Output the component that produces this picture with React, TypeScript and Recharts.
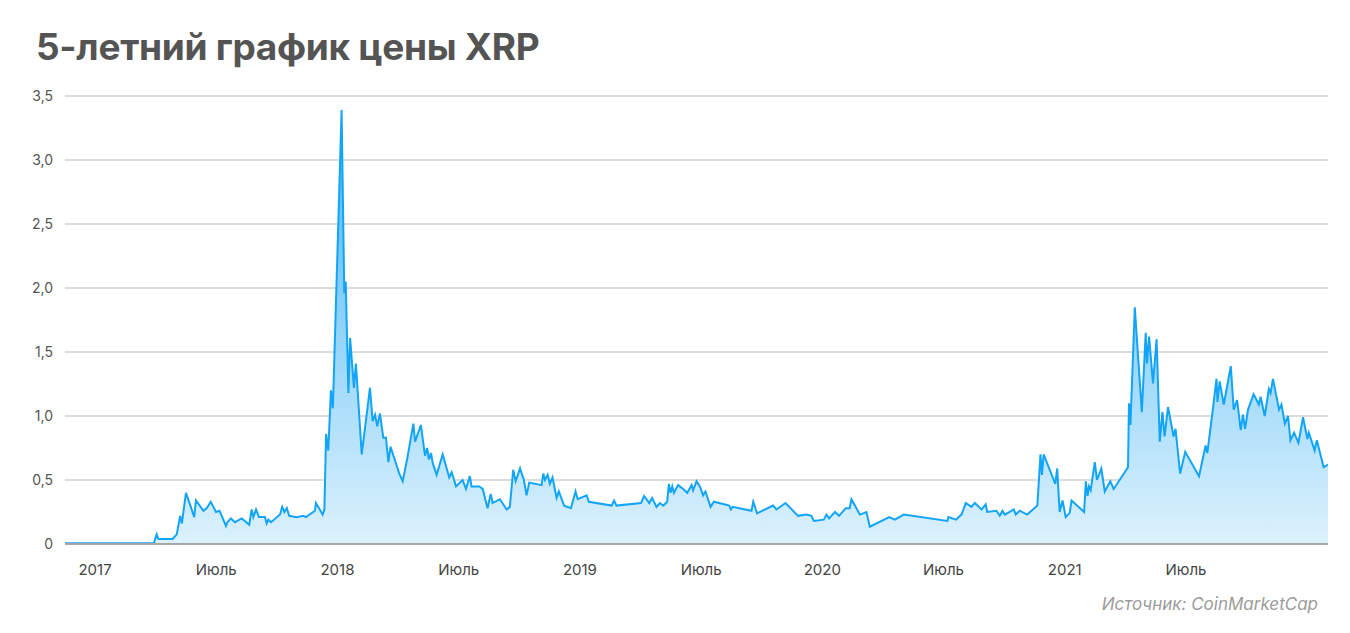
import { AreaChart, Area, XAxis, YAxis, CartesianGrid } from 'recharts'

// время в долях года, цена XRP в долларах
const years = [
  2016.876, 2017.243, 2017.254, 2017.261, 2017.32, 2017.337, 2017.351, 2017.358, 2017.375, 2017.395,
  2017.409, 2017.416, 2017.447, 2017.461, 2017.477, 2017.499, 2017.513, 2017.527, 2017.54, 2017.546,
  2017.56, 2017.577, 2017.605, 2017.636, 2017.646, 2017.653, 2017.664, 2017.676, 2017.701, 2017.708,
  2017.715, 2017.726, 2017.763, 2017.772, 2017.781, 2017.791, 2017.801, 2017.832, 2017.859, 2017.87,
  2017.907, 2017.911, 2017.939, 2017.946, 2017.953, 2017.962, 2017.973, 2017.981, 2018.017, 2018.028,
  2018.034, 2018.045, 2018.052, 2018.068, 2018.076, 2018.1, 2018.134, 2018.145, 2018.155, 2018.164,
  2018.175, 2018.189, 2018.2, 2018.21, 2018.219, 2018.255, 2018.269, 2018.288, 2018.313, 2018.32,
  2018.344, 2018.361, 2018.37, 2018.377, 2018.386, 2018.393, 2018.409, 2018.434, 2018.461, 2018.471,
  2018.489, 2018.516, 2018.53, 2018.546, 2018.553, 2018.585, 2018.599, 2018.619, 2018.632, 2018.64,
  2018.67, 2018.698, 2018.711, 2018.725, 2018.735, 2018.753, 2018.769, 2018.78, 2018.791, 2018.842,
  2018.849, 2018.856, 2018.867, 2018.876, 2018.887, 2018.904, 2018.913, 2018.935, 2018.963, 2018.982,
  2018.991, 2019.028, 2019.037, 2019.131, 2019.141, 2019.151, 2019.252, 2019.265, 2019.286, 2019.298,
  2019.316, 2019.33, 2019.344, 2019.36, 2019.367, 2019.374, 2019.381, 2019.388, 2019.405, 2019.426,
  2019.443, 2019.461, 2019.467, 2019.481, 2019.495, 2019.508, 2019.518, 2019.539, 2019.553, 2019.616,
  2019.623, 2019.63, 2019.708, 2019.715, 2019.731, 2019.797, 2019.811, 2019.848, 2019.9, 2019.935,
  2019.955, 2019.965, 2020.006, 2020.017, 2020.028, 2020.052, 2020.069, 2020.097, 2020.113, 2020.12,
  2020.155, 2020.182, 2020.196, 2020.276, 2020.299, 2020.336, 2020.516, 2020.52, 2020.551, 2020.574,
  2020.592, 2020.615, 2020.629, 2020.657, 2020.674, 2020.68, 2020.718, 2020.732, 2020.743, 2020.753,
  2020.79, 2020.798, 2020.814, 2020.845, 2020.887, 2020.9, 2020.906, 2020.913, 2020.961, 2020.969,
  2020.979, 2020.991, 2021.004, 2021.021, 2021.028, 2021.08, 2021.087, 2021.094, 2021.1, 2021.107,
  2021.124, 2021.133, 2021.151, 2021.165, 2021.188, 2021.202, 2021.261, 2021.265, 2021.271, 2021.289,
  2021.318, 2021.334, 2021.339, 2021.348, 2021.364, 2021.379, 2021.392, 2021.403, 2021.412, 2021.426,
  2021.449, 2021.457, 2021.476, 2021.497, 2021.554, 2021.581, 2021.588, 2021.607, 2021.626, 2021.63,
  2021.639, 2021.656, 2021.685, 2021.697, 2021.711, 2021.726, 2021.735, 2021.744, 2021.756, 2021.779,
  2021.801, 2021.808, 2021.825, 2021.842, 2021.849, 2021.859, 2021.884, 2021.894, 2021.908, 2021.921,
  2021.931, 2021.946, 2021.964, 2021.983, 2022.001, 2022.007, 2022.031, 2022.04, 2022.068, 2022.086,
]

const prices = [
  0.006, 0.007, 0.075, 0.04, 0.04, 0.075, 0.22, 0.16, 0.4, 0.29,
  0.21, 0.34, 0.26, 0.28, 0.33, 0.25, 0.26, 0.2, 0.14, 0.17,
  0.2, 0.17, 0.2, 0.15, 0.27, 0.21, 0.27, 0.21, 0.21, 0.16,
  0.19, 0.17, 0.23, 0.29, 0.25, 0.28, 0.22, 0.21, 0.22, 0.21,
  0.26, 0.32, 0.23, 0.27, 0.86, 0.73, 1.2, 1.06, 3.39, 1.96,
  2.05, 1.18, 1.61, 1.22, 1.41, 0.7, 1.22, 0.96, 1.01, 0.92,
  1.02, 0.83, 0.83, 0.64, 0.76, 0.55, 0.49, 0.67, 0.94, 0.8,
  0.93, 0.69, 0.75, 0.66, 0.71, 0.63, 0.54, 0.7, 0.52, 0.56,
  0.45, 0.5, 0.43, 0.53, 0.45, 0.45, 0.43, 0.28, 0.39, 0.32,
  0.35, 0.27, 0.29, 0.58, 0.49, 0.59, 0.5, 0.38, 0.48, 0.46,
  0.55, 0.5, 0.54, 0.47, 0.52, 0.36, 0.41, 0.3, 0.28, 0.41,
  0.35, 0.38, 0.33, 0.3, 0.34, 0.3, 0.32, 0.375, 0.32, 0.36,
  0.29, 0.32, 0.3, 0.33, 0.47, 0.4, 0.45, 0.4, 0.46, 0.43,
  0.4, 0.46, 0.42, 0.49, 0.45, 0.38, 0.41, 0.29, 0.33, 0.3,
  0.27, 0.29, 0.26, 0.33, 0.24, 0.3, 0.27, 0.32, 0.22, 0.23,
  0.22, 0.18, 0.19, 0.23, 0.2, 0.25, 0.22, 0.28, 0.28, 0.35,
  0.23, 0.25, 0.135, 0.21, 0.19, 0.23, 0.18, 0.21, 0.19, 0.23,
  0.32, 0.29, 0.32, 0.27, 0.31, 0.25, 0.26, 0.22, 0.26, 0.23,
  0.27, 0.23, 0.26, 0.23, 0.3, 0.7, 0.54, 0.7, 0.47, 0.59,
  0.25, 0.34, 0.21, 0.245, 0.34, 0.25, 0.49, 0.375, 0.45, 0.42,
  0.64, 0.5, 0.59, 0.41, 0.49, 0.43, 0.6, 1.1, 0.93, 1.85,
  1.03, 1.65, 1.41, 1.62, 1.255, 1.6, 0.8, 1.03, 0.84, 1.07,
  0.84, 0.9, 0.55, 0.72, 0.53, 0.77, 0.71, 0.99, 1.29, 1.11,
  1.27, 1.09, 1.39, 1.05, 1.125, 0.89, 1.01, 0.9, 1.05, 1.17,
  1.09, 1.15, 1.0, 1.21, 1.18, 1.29, 1.05, 1.09, 0.94, 1.0,
  0.81, 0.87, 0.79, 0.99, 0.82, 0.87, 0.73, 0.81, 0.6, 0.62,
]

const xTicks = [2017, 2017.5, 2018, 2018.5, 2019, 2019.5, 2020, 2020.5, 2021, 2021.5]
const xTickLabels = ['2017', 'Июль', '2018', 'Июль', '2019', 'Июль', '2020', 'Июль', '2021', 'Июль']
const yTicks = [0, 0.5, 1, 1.5, 2, 2.5, 3, 3.5]

const data = years.map((t, i) => ({ t, price: prices[i] }))

const FONT = 'Inter, "Noto Sans", sans-serif'

const fmtY = (v: number) => (v === 0 ? '0' : v.toFixed(1).replace('.', ','))
const fmtX = (v: number) => xTickLabels[xTicks.indexOf(v)] ?? ''

export default function App() {
  return (
    <div style={{ position: 'absolute', left: 0, top: 0, width: 1350, height: 633, background: '#fff', fontFamily: FONT }}>
      <div style={{ position: 'absolute', left: 36, top: 24, fontSize: 37, fontWeight: 700, color: '#545454', letterSpacing: -0.3 }}>
        5-летний график цены XRP
      </div>
      <AreaChart width={1350} height={633} data={data} margin={{ top: 96, right: 22, left: 0, bottom: 0 }}>
        <defs>
          <linearGradient id="xrpFill" x1="0" y1="0" x2="0" y2="1">
            <stop offset="0%" stopColor="#45b5f5" stopOpacity={1} />
            <stop offset="100%" stopColor="#dcf1fd" stopOpacity={1} />
          </linearGradient>
        </defs>
        <CartesianGrid vertical={false} stroke="#dcdcdc" strokeWidth={2} />
        <XAxis
          dataKey="t"
          type="number"
          domain={[2016.876, 2022.086]}
          ticks={xTicks}
          tickFormatter={fmtX}
          height={89}
          tick={{ fontSize: 15, fill: '#444', fontFamily: FONT }}
          tickLine={false}
          tickMargin={14}
          axisLine={{ stroke: '#a6a6a6', strokeWidth: 2 }}
          allowDataOverflow
        />
        <YAxis
          type="number"
          domain={[0, 3.5]}
          ticks={yTicks}
          tickFormatter={fmtY}
          width={65}
          tick={{ fontSize: 14, fill: '#555', fontFamily: FONT }}
          tickLine={false}
          axisLine={false}
          tickMargin={6}
        />
        <Area
          type="linear"
          dataKey="price"
          stroke="#12a5f7"
          strokeWidth={2}
          fill="url(#xrpFill)"
          fillOpacity={1}
          dot={false}
          activeDot={false}
          isAnimationActive={false}
        />
      </AreaChart>
      <div style={{ position: 'absolute', right: 32, top: 594, fontSize: 17, fontStyle: 'italic', color: '#9b9b9b' }}>
        Источник: CoinMarketCap
      </div>
    </div>
  )
}
